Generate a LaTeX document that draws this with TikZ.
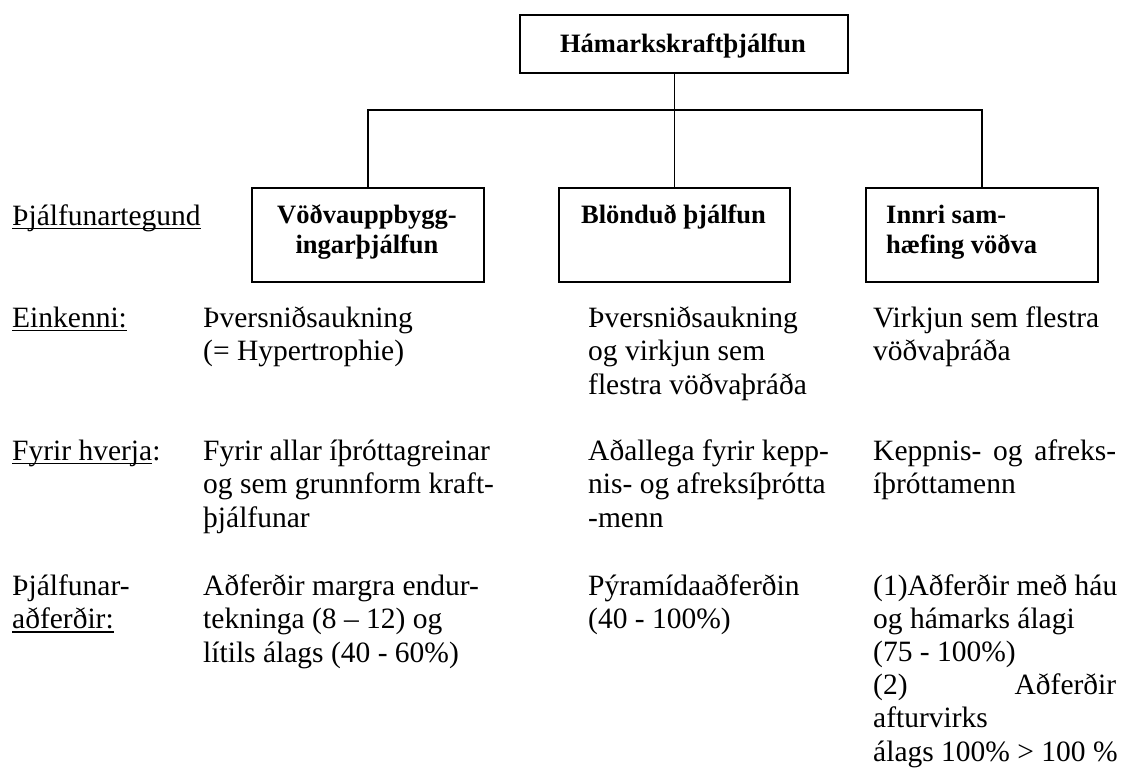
\documentclass[tikz,border=0pt]{standalone}
\usepackage{fontspec}
\setmainfont{Liberation Serif}
\newsavebox\ulbox
\newcommand\myul[1]{\sbox\ulbox{#1}\rlap{\rule[-4pt]{\wd\ulbox}{1.4pt}}\usebox\ulbox}
\tikzset{
  txt/.style={anchor=base west, inner sep=0pt, font=\fontsize{29.5}{33.6}\selectfont},
  tighttxt/.style={anchor=base west, inner sep=0pt, font=\fontsize{29.5}{33.2}\selectfont},
  btxt/.style={inner sep=0pt, font=\fontsize{26.5}{30}\selectfont\bfseries},
  frame/.style={draw, line width=1.6pt, inner sep=0pt, anchor=north west},
  conn/.style={line width=1.5pt}
}
\begin{document}
\begin{tikzpicture}[x=1pt,y=-1pt]
\useasboundingbox (0,0) rectangle (1122,769);
% boxes
\node[frame, minimum width=328pt, minimum height=58pt] (top) at (519,14) {};
\node[frame, minimum width=232pt, minimum height=94pt] (b1) at (251,187) {};
\node[frame, minimum width=231pt, minimum height=94pt] (b2) at (558,187) {};
\node[frame, minimum width=232pt, minimum height=94pt] (b3) at (865,187) {};
% box texts
\node[btxt, anchor=base] (ttl) at (683,52) {Hámarkskraftþjálfun};
\node[btxt, anchor=base] (t1a) at (367,223) {Vöðvauppbygg-};
\node[btxt, anchor=base] (t1b) at (367,253) {ingarþjálfun};
\node[btxt, anchor=base] (t2) at (673.5,223) {Blönduð þjálfun};
\node[btxt, anchor=base west] (t3) at (886,223) {\vtop{\hbox{Innri sam-}\hbox{hæfing vöðva}}};
% connectors
\coordinate (hub) at (673,110);
\draw[conn] (top.south -| b2.north) -- (b2.north);
\draw[conn] (b1.north) -- (b1.north |- hub) -- (b3.north |- hub) -- (b3.north);
% row labels
\node[txt] (l0) at (12,225) {\myul{Þjálfunartegund}};
\node[txt] (l1) at (12,327) {\myul{Einkenni:}};
\node[txt] (l2) at (12,460) {\myul{Fyrir hverja}:};
\node[txt] (l3) at (12,595) {\vtop{\hbox{Þjálfunar-}\hbox{\myul{aðferðir:}}}};
% left column
\node[txt] (a1) at (203,327) {\vtop{\hbox{Þversniðsaukning}\hbox{(= Hypertrophie)}}};
\node[txt] (a2) at (203,460) {\vtop{\hbox{Fyrir allar íþróttagreinar}\hbox{og sem grunnform kraft-}\hbox{þjálfunar}}};
\node[txt] (a3) at (203,595) {\vtop{\hbox{Aðferðir margra endur-}\hbox{tekninga (8 – 12) og}\hbox{lítils álags (40 - 60\%)}}};
% middle column
\node[txt] (m1) at (588,327) {\vtop{\hbox{Þversniðsaukning}\hbox{og virkjun sem}\hbox{flestra vöðvaþráða}}};
\node[txt] (m2) at (588,460) {\vtop{\hbox{Aðallega fyrir kepp-}\hbox{nis- og afreksíþrótta}\hbox{-menn}}};
\node[txt] (m3) at (588,595) {\vtop{\hbox{Pýramídaaðferðin}\hbox{(40 - 100\%)}}};
% right column
\node[txt] (r1) at (873,327) {\vtop{\hbox{Virkjun sem flestra}\hbox{vöðvaþráða}}};
\node[txt] (r2) at (873,460) {\vtop{\hbox to 243pt{Keppnis-\hfill og\hfill afreks-}\hbox{íþróttamenn}}};
\node[tighttxt] (r3) at (873,595) {\vtop{\hbox{(1)Aðferðir með háu}\hbox{og hámarks álagi}\hbox{(75 - 100\%)}\hbox to 243pt{(2)\hfill Aðferðir}\hbox{afturvirks}\hbox{álags 100\% > 100 \%}}};
\end{tikzpicture}
\end{document}
